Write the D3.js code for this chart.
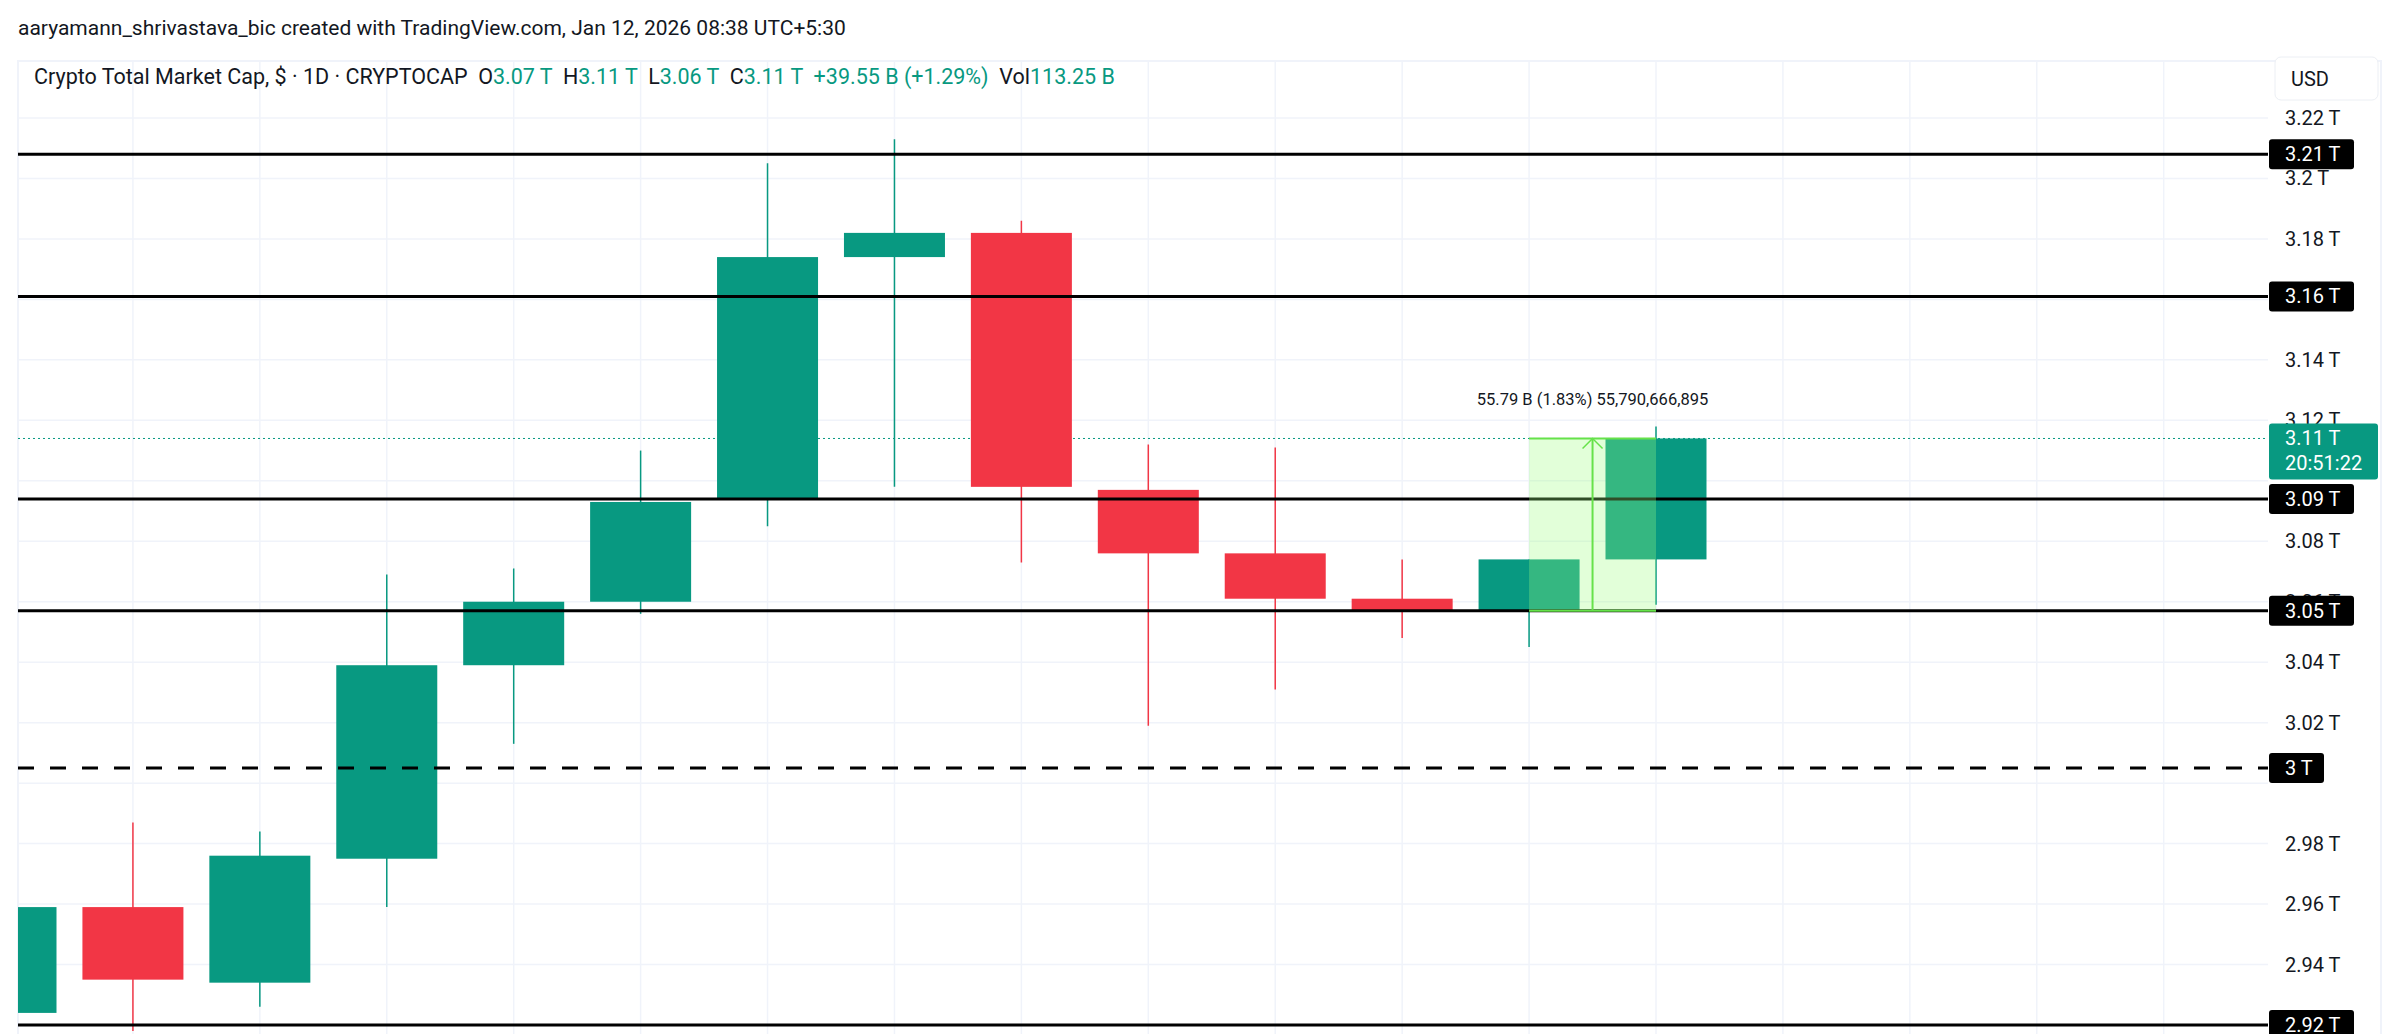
<!DOCTYPE html>
<html>
<head>
<meta charset="utf-8">
<script src="https://cdn.jsdelivr.net/npm/d3@7"></script>
<style>
  body { margin: 0; background: #fff; font-family: Roboto, "Noto Sans", sans-serif; }
  svg { display: block; }
</style>
</head>
<body>
<script>
// daily candles, values in trillions
const open  = [2.924, 2.959, 2.934, 2.975, 3.039, 3.060, 3.094, 3.174, 3.182, 3.097, 3.076, 3.061, 3.057, 3.074];
const high  = [2.959, 2.987, 2.984, 3.069, 3.071, 3.110, 3.205, 3.213, 3.186, 3.112, 3.111, 3.074, 3.074, 3.118];
const low   = [2.924, 2.918, 2.926, 2.959, 3.013, 3.056, 3.085, 3.098, 3.073, 3.019, 3.031, 3.048, 3.045, 3.059];
const close = [2.959, 2.935, 2.976, 3.039, 3.060, 3.093, 3.174, 3.182, 3.098, 3.076, 3.061, 3.057, 3.074, 3.114];
const ticks = [2.92, 2.94, 2.96, 2.98, 3.00, 3.02, 3.04, 3.06, 3.08, 3.10, 3.12, 3.14, 3.16, 3.18, 3.20, 3.22];
const tickLabels = ['', '2.94 T', '2.96 T', '2.98 T', '', '3.02 T', '3.04 T', '3.06 T', '3.08 T', '', '3.12 T', '3.14 T', '', '3.18 T', '3.2 T', '3.22 T'];
const levels = [3.208, 3.161, 3.094, 3.057, 2.92];
const levelLabels = ['3.21 T', '3.16 T', '3.09 T', '3.05 T', '2.92 T'];
const dashedLevel = 3.005;
const lastPrice = 3.114;
const measure = { from: 12, to: 13, lo: 3.057, hi: 3.114, text: '55.79 B (1.83%) 55,790,666,895' };

const W = 2406, H = 1034;
const plot = { left: 18, right: 2268, top: 61, bottom: 1034 };
const GREEN = '#089981', RED = '#f23645';

const svg = d3.select('body').append('svg').attr('width', W).attr('height', H);

const x = d3.scaleLinear().domain([0, 13]).range([6, 1656]);
const y = d3.scaleLinear().domain([2.92, 3.22]).range([1025, 118]);
const bodyW = 101;

svg.append('defs').append('clipPath').attr('id', 'clip')
  .append('rect').attr('x', plot.left).attr('y', plot.top)
  .attr('width', plot.right - plot.left).attr('height', plot.bottom - plot.top);

// header
svg.append('text').attr('x', 18).attr('y', 35).attr('font-size', 21).attr('fill', '#131722')
  .text('aaryamann_shrivastava_bic created with TradingView.com, Jan 12, 2026 08:38 UTC+5:30');

// frame
svg.append('rect').attr('x', plot.left).attr('y', plot.top).attr('width', 2381 - plot.left)
  .attr('height', H).attr('fill', 'none').attr('stroke', '#f0f3fa').attr('stroke-width', 2);

const g = svg.append('g').attr('clip-path', 'url(#clip)');

// grid
g.selectAll('.hg').data(ticks).enter().append('line')
  .attr('x1', plot.left).attr('x2', plot.right)
  .attr('y1', d => y(d)).attr('y2', d => y(d))
  .attr('stroke', '#f0f3fa').attr('stroke-width', 1.5);
g.selectAll('.vg').data(d3.range(0, 18)).enter().append('line')
  .attr('x1', d => x(d)).attr('x2', d => x(d))
  .attr('y1', plot.top).attr('y2', plot.bottom)
  .attr('stroke', '#f0f3fa').attr('stroke-width', 1.5);

// last price dotted line
g.append('line').attr('x1', plot.left).attr('x2', plot.right)
  .attr('y1', y(lastPrice)).attr('y2', y(lastPrice))
  .attr('stroke', GREEN).attr('stroke-width', 1).attr('stroke-dasharray', '2,3');

// candles
const idx = d3.range(open.length);
const col = i => close[i] >= open[i] ? GREEN : RED;
g.selectAll('.wick').data(idx).enter().append('line')
  .attr('x1', i => x(i)).attr('x2', i => x(i))
  .attr('y1', i => y(high[i])).attr('y2', i => y(low[i]))
  .attr('stroke', col).attr('stroke-width', 1.5);
g.selectAll('.body').data(idx).enter().append('rect')
  .attr('x', i => x(i) - bodyW / 2).attr('width', bodyW)
  .attr('y', i => y(Math.max(open[i], close[i])))
  .attr('height', i => Math.max(2, Math.abs(y(open[i]) - y(close[i]))))
  .attr('fill', col);

// levels
g.selectAll('.lvl').data(levels).enter().append('line')
  .attr('x1', plot.left).attr('x2', plot.right)
  .attr('y1', d => y(d)).attr('y2', d => y(d))
  .attr('stroke', '#000').attr('stroke-width', 3);
g.append('line').attr('x1', plot.left).attr('x2', plot.right)
  .attr('y1', y(dashedLevel)).attr('y2', y(dashedLevel))
  .attr('stroke', '#000').attr('stroke-width', 3).attr('stroke-dasharray', '16,16');

// measure tool
const mx0 = x(measure.from), mx1 = x(measure.to), my0 = y(measure.hi), my1 = y(measure.lo);
g.append('rect').attr('x', mx0).attr('y', my0).attr('width', mx1 - mx0).attr('height', my1 - my0)
  .attr('fill', 'rgba(160,255,130,0.3)');
g.append('line').attr('x1', mx0).attr('x2', mx1).attr('y1', my0).attr('y2', my0).attr('stroke', '#66e24a').attr('stroke-width', 2);
g.append('line').attr('x1', mx0).attr('x2', mx1).attr('y1', my1).attr('y2', my1).attr('stroke', '#66e24a').attr('stroke-width', 2);
const mxm = (mx0 + mx1) / 2;
g.append('line').attr('x1', mxm).attr('x2', mxm).attr('y1', my0).attr('y2', my1).attr('stroke', '#66e24a').attr('stroke-width', 2);
g.append('path').attr('d', `M${mxm - 10},${my0 + 10}L${mxm},${my0}L${mxm + 10},${my0 + 10}`)
  .attr('fill', 'none').attr('stroke', '#66e24a').attr('stroke-width', 1.5);
svg.append('text').attr('x', mxm).attr('y', my0 - 33).attr('text-anchor', 'middle')
  .attr('font-size', 16.5).attr('fill', '#131722').text(measure.text);

// legend line
const leg = svg.append('text').attr('x', 34).attr('y', 84).attr('font-size', 21.5).attr('fill', '#131722')
  .style('white-space', 'pre');
[['Crypto Total Market Cap, $ · 1D · CRYPTOCAP  O', '#131722'], ['3.07 T', GREEN], ['  H', '#131722'], ['3.11 T', GREEN],
 ['  L', '#131722'], ['3.06 T', GREEN], ['  C', '#131722'], ['3.11 T', GREEN], ['  +39.55 B (+1.29%)', GREEN],
 ['  Vol', '#131722'], ['113.25 B', GREEN]].forEach(([t, c]) =>
  leg.append('tspan').attr('fill', c).text(t));

// right axis
svg.append('rect').attr('x', 2275).attr('y', 57).attr('width', 103).attr('height', 43).attr('rx', 6)
  .attr('fill', '#fff').attr('stroke', '#eceff4');
svg.append('text').attr('x', 2291).attr('y', 86).attr('font-size', 20).attr('fill', '#131722').text('USD');
svg.selectAll('.tk').data(ticks).enter().append('text')
  .attr('x', 2285).attr('y', d => y(d) + 7).attr('font-size', 20).attr('fill', '#131722')
  .text((d, i) => tickLabels[i]);

const tagData = levels.map((v, i) => ({ v, t: levelLabels[i], w: 85 })).concat([{ v: dashedLevel, t: '3 T', w: 55 }]);
const tags = svg.selectAll('.tag').data(tagData).enter().append('g');
tags.append('rect').attr('x', 2269).attr('y', d => y(d.v) - 15).attr('rx', 3)
  .attr('width', d => d.w).attr('height', 30).attr('fill', '#000');
tags.append('text').attr('x', 2285).attr('y', d => y(d.v) + 7).attr('font-size', 20).attr('fill', '#fff')
  .text(d => d.t);

svg.append('rect').attr('x', 2269).attr('y', y(lastPrice) - 15).attr('width', 109).attr('height', 56).attr('rx', 3).attr('fill', GREEN);
svg.append('text').attr('x', 2285).attr('y', y(lastPrice) + 7).attr('font-size', 20).attr('fill', '#fff').text('3.11 T');
svg.append('text').attr('x', 2285).attr('y', y(lastPrice) + 32).attr('font-size', 20).attr('fill', '#fff').text('20:51:22');
</script>
</body>
</html>
